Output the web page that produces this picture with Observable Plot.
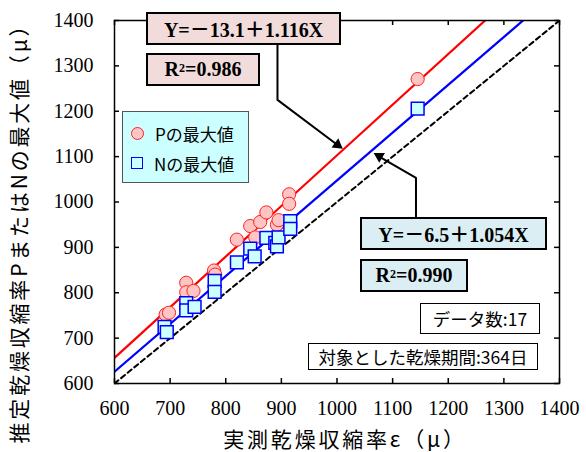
<!DOCTYPE html>
<html><head><meta charset="utf-8">
<script src="https://cdn.jsdelivr.net/npm/d3@7"></script>
<script src="https://cdn.jsdelivr.net/npm/@observablehq/plot@0.6"></script>
<style>
body{margin:0;background:#fff;}
#wrap{position:relative;width:586px;height:452px;overflow:hidden;}
#wrap svg{position:absolute;left:0;top:0;}
.box{position:absolute;box-sizing:border-box;display:flex;align-items:center;justify-content:center;white-space:nowrap;}
.eq{font-family:"Liberation Serif","Noto Sans CJK JP",serif;font-weight:bold;font-size:20px;border:2.5px solid #000;color:#000;}
.eq sup{font-size:12px;position:relative;top:-2px;vertical-align:super;line-height:0;}
.pink{background:#f2dcdb;}
.blue{background:#dbeef3;}
.note{font-family:"Noto Sans CJK JP","Noto Sans",sans-serif;font-size:17.5px;border:1.5px solid #000;background:#fff;color:#000;}
.legend{position:absolute;box-sizing:border-box;background:#ccffff;border:1px solid #555;font-family:"Noto Sans CJK JP","Noto Sans",sans-serif;font-size:17px;color:#000;}
.legend .row{position:absolute;left:0;display:flex;align-items:center;height:24px;}
.legend .mk{display:inline-block;box-sizing:border-box;margin-left:8px;margin-right:11px;}
.legend .c{width:13px;height:13px;border-radius:50%;background:#ffc4c4;border:1px solid #ff2020;}
.legend .s{width:12px;height:12px;background:#ccffff;border:1.5px solid #0000ff;}
g[aria-label$="tick label"] text{font-family:"Liberation Serif","Times New Roman",serif !important;font-size:20px !important;}
</style></head><body>
<div id="wrap"></div>
<script>
// measured shrinkage (x) and estimated max values (y)
const pMeasured = [692, 698, 729, 729, 742, 779, 781, 820, 844, 853, 862, 873, 892, 895, 914, 914, 1145];
const pMax      = [752, 756, 822, 801, 804, 849, 840, 917, 947, 922, 956, 977, 950, 960, 1017, 996, 1271];
const nMeasured = [690, 694, 729, 729, 744, 780, 780, 820, 844, 852, 873, 889, 892, 895, 916, 916, 1145];
const nMax      = [725, 713, 777, 761, 769, 826, 802, 867, 897, 880, 921, 910, 902, 922, 958, 941, 1206];
const xTicks = [600, 700, 800, 900, 1000, 1100, 1200, 1300, 1400];
const yTicks = [600, 700, 800, 900, 1000, 1100, 1200, 1300, 1400];
const fitP = {a: -13.1, b: 1.116, r2: "0.986"};
const fitN = {a: -6.5, b: 1.054, r2: "0.990"};
const xLabel = "実測乾燥収縮率ε（μ）";
const yLabel = "推定乾燥収縮率PまたはNの最大値（μ）";
const legendLabels = ["Pの最大値", "Nの最大値"];
const noteCount = "データ数:17";
const notePeriod = "対象とした乾燥期間:364日";
// annotation leader lines (data coordinates)
const arrowP = [[893, 1347], [893, 1225], [1004, 1123]];
const arrowPTip = [[1001, 1126]];
const arrowN = [[1142, 966], [1142, 1053], [1072, 1103]];
const arrowNTip = [[1076, 1101]];

const W = 586, H = 452;
const M = {left: 114, right: 27, top: 20, bottom: 69};
const innerW = W - M.left - M.right, innerH = H - M.top - M.bottom;

const ptsP = pMeasured.map((x, i) => ({x, y: pMax[i]}));
const ptsN = nMeasured.map((x, i) => ({x, y: nMax[i]}));
const range = [xTicks[0], xTicks[xTicks.length - 1]];
const lineP = range.map(x => ({x, y: fitP.a + fitP.b * x}));
const lineN = range.map(x => ({x, y: fitN.a + fitN.b * x}));
const lineEq = range.map(x => ({x, y: x}));
const serif = "'Liberation Serif', 'Times New Roman', serif";
const cjk = "'Noto Sans CJK JP', 'Noto Sans', sans-serif";
const tickLen = 5;

const chart = Plot.plot({
  width: W, height: H,
  marginLeft: M.left, marginRight: M.right, marginTop: M.top, marginBottom: M.bottom,
  style: {background: "white", color: "black", fontFamily: serif, fontSize: "20px"},
  x: {domain: range, ticks: xTicks},
  y: {domain: [yTicks[0], yTicks[yTicks.length - 1]], ticks: yTicks},
  marks: [
    Plot.line(lineEq, {x: "x", y: "y", stroke: "black", strokeWidth: 2, strokeDasharray: "5,3.5", clip: true}),
    Plot.line(lineN, {x: "x", y: "y", stroke: "#0000ff", strokeWidth: 2.2, clip: true}),
    Plot.line(lineP, {x: "x", y: "y", stroke: "#ff0000", strokeWidth: 2.2, clip: true}),
    Plot.dot(ptsP, {x: "x", y: "y", r: 6.6, fill: "#ffc4c4", stroke: "#ff2020", strokeWidth: 1}),
    Plot.dot(ptsN, {x: "x", y: "y", r: 7.2, symbol: "square", fill: "#ccffff", stroke: "#0000ff", strokeWidth: 1.5}),
    Plot.line(arrowP, {x: d => d[0], y: d => d[1], stroke: "black", strokeWidth: 2}),
    Plot.dot(arrowPTip, {x: d => d[0], y: d => d[1], symbol: "triangle", r: 4.2, fill: "black", rotate: 126.7}),
    Plot.line(arrowN, {x: d => d[0], y: d => d[1], stroke: "black", strokeWidth: 2}),
    Plot.dot(arrowNTip, {x: d => d[0], y: d => d[1], symbol: "triangle", r: 4.2, fill: "black", rotate: -59.7}),
    Plot.ruleX(xTicks, {x: d => d, insetTop: innerH - tickLen, strokeWidth: 1.5}),
    Plot.ruleX(xTicks, {x: d => d, insetBottom: innerH - tickLen, strokeWidth: 1.5}),
    Plot.ruleY(yTicks, {y: d => d, insetRight: innerW - tickLen, strokeWidth: 1.5}),
    Plot.ruleY(yTicks, {y: d => d, insetLeft: innerW - tickLen, strokeWidth: 1.5}),
    Plot.frame({stroke: "black", strokeWidth: 1.5}),
    Plot.axisX({ticks: xTicks, tickSize: 0, tickPadding: 17, fontSize: 20, fontFamily: serif, label: null, tickFormat: d => String(d)}),
    Plot.axisY({ticks: yTicks, tickSize: 0, tickPadding: 21, fontSize: 20, fontFamily: serif, label: null, tickFormat: d => String(d)}),
    Plot.text([xLabel], {text: d => d, frameAnchor: "bottom", lineAnchor: "middle", textAnchor: "middle", dy: 57, dx: 8, fontSize: 21, fontFamily: cjk, fill: "black"}),
    Plot.text([yLabel], {text: d => d, frameAnchor: "left", lineAnchor: "middle", textAnchor: "middle", dx: -94, dy: 26, rotate: -90, fontSize: 21, fontFamily: cjk, fill: "black"})
  ]
});

// wider character spacing on the axis titles, as in the reference
chart.querySelectorAll("text").forEach(t => {
  if (t.textContent === xLabel || t.textContent === yLabel) t.setAttribute("letter-spacing", "2.8");
});

const wrap = document.getElementById("wrap");
wrap.appendChild(chart);

function box(cls, left, top, w, h, html) {
  const d = document.createElement("div");
  d.className = "box " + cls;
  Object.assign(d.style, {left: left + "px", top: top + "px", width: w + "px", height: h + "px"});
  d.innerHTML = html;
  wrap.appendChild(d);
}
const fmtEq = f => `Y=${f.a < 0 ? "－" : "＋"}${Math.abs(f.a)}＋${f.b.toFixed(3)}X`;
box("eq pink", 146, 12, 195, 33, fmtEq(fitP));
box("eq pink", 146, 53, 114, 33, `R<sup>2</sup>=${fitP.r2}`);
box("eq blue", 360, 217, 187, 33, fmtEq(fitN));
box("eq blue", 360, 259, 108, 33, `R<sup>2</sup>=${fitN.r2}`);
box("note", 420, 303, 120, 31, noteCount);
box("note", 308, 343, 230, 27, notePeriod);

const lg = document.createElement("div");
lg.className = "legend";
Object.assign(lg.style, {left: "122px", top: "111px", width: "127px", height: "72px"});
lg.innerHTML =
  `<div class="row" style="top:9px"><span class="mk c"></span>${legendLabels[0]}</div>` +
  `<div class="row" style="top:39px"><span class="mk s"></span>${legendLabels[1]}</div>`;
wrap.appendChild(lg);
</script>
</body></html>
